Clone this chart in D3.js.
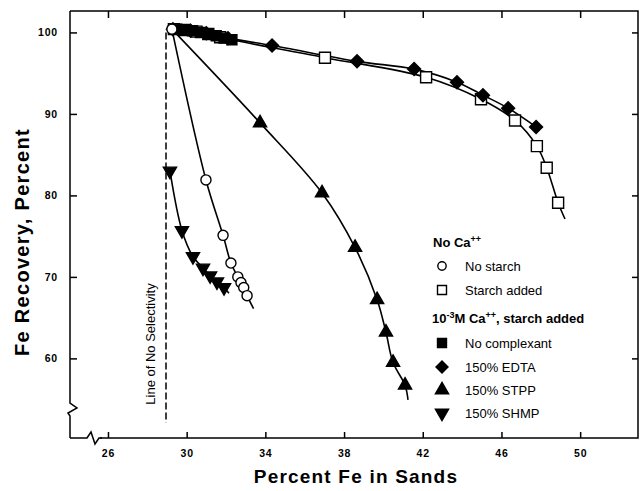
<!doctype html>
<html lang="en">
<head>
  <meta charset="utf-8" />
  <title>Fe Recovery vs Percent Fe in Sands</title>
  <style>
    html, body { margin: 0; padding: 0; background: #fff; }
    svg { display: block; font-family: "Liberation Sans", Arial, Helvetica, sans-serif; }
    .tick text { font-size: 10.5px; font-weight: bold; letter-spacing: 0.8px; }
    .lbl { font-weight: bold; }
    .leg { font-size: 13px; }
  </style>
</head>
<body>
<script src="https://cdn.jsdelivr.net/npm/d3@7"></script>
<script>

// Data
var xTicks = [26, 30, 34, 38, 42, 46, 50];
var yTicks = [60, 70, 80, 90, 100];
var origin = [29.25, 100.4];
var noSelectivityX = 28.95;

var noStarch = [[29.25, 100.4], [30.98, 81.9], [31.85, 75.1], [32.25, 71.7], [32.6, 70.0], [32.76, 69.3], [32.9, 68.7], [33.07, 67.7]];
var noStarchEnd = [33.4, 66.1];

var starchAdded = [[29.35, 100.4], [29.9, 100.3], [30.5, 100.1], [31.1, 99.8], [31.7, 99.4], [37.03, 96.9], [42.17, 94.5], [44.96, 91.8], [46.69, 89.2], [47.8, 86.05], [48.3, 83.4], [48.88, 79.1]];
var starchEnd = [49.23, 77.1];

var noComplexant = [[29.5, 100.4], [29.9, 100.3], [30.3, 100.2], [30.7, 100.0], [31.1, 99.8], [31.5, 99.6], [31.9, 99.3], [32.3, 99.1]];

var edta = [[29.3, 100.4], [30.2, 100.2], [31.0, 99.9], [32.1, 99.3], [34.34, 98.4], [38.66, 96.45], [41.56, 95.5], [43.74, 93.9], [45.06, 92.3], [46.34, 90.7], [47.76, 88.4]];

var stpp = [[33.73, 88.9], [36.88, 80.3], [38.56, 73.6], [39.68, 67.2], [40.13, 63.2], [40.49, 59.5], [41.1, 56.7]];
var stppEnd = [41.25, 54.9];

var shmp = [[29.15, 83.0], [29.76, 75.7], [30.32, 72.5], [30.83, 71.1], [31.19, 70.15], [31.54, 69.4], [31.9, 68.7]];
var shmpEnd = [32.15, 68.0];

// SVG
var width = 640, height = 491;
var svg = d3.select('body').append('svg')
  .attr('width', width)
  .attr('height', height);

var pLeft = 70, pRight = 638, pTop = 11, pBottom = 438;

var x = d3.scaleLinear().domain([24.07, 52.94]).range([pLeft, pRight]);
var y = d3.scaleLinear().domain([50.23, 102.63]).range([pBottom, pTop]);

// Frame and axes
var frame = svg.append('g').attr('stroke', '#000').attr('stroke-width', 1.5).attr('fill', 'none');
frame.append('path').attr('d',
  'M' + pLeft + ',' + pTop + 'H' + pRight + 'V' + pBottom +
  'H' + (pLeft + 30));
// bottom axis with break
frame.append('path').attr('d',
  'M' + pLeft + ',' + pBottom + 'H' + (pLeft + 17) + 'L' + (pLeft + 21) + ',' + (pBottom - 6) +
  'L' + (pLeft + 25) + ',' + (pBottom + 6) + 'L' + (pLeft + 29) + ',' + pBottom + 'H' + (pLeft + 32));
// left axis with break
frame.append('path').attr('d',
  'M' + pLeft + ',' + pTop + 'V' + (pBottom - 35) + 'L' + (pLeft + 7) + ',' + (pBottom - 30) +
  'L' + (pLeft - 2) + ',' + (pBottom - 25) + 'L' + pLeft + ',' + (pBottom - 22) + 'V' + pBottom);

svg.append('g')
  .attr('transform', 'translate(0,' + pBottom + ')')
  .call(d3.axisBottom(x).tickValues(xTicks).tickSize(-6).tickPadding(12).tickFormat(d3.format('d')))
  .call(function(g) { g.select('.domain').remove(); })
  .call(function(g) { g.selectAll('.tick line').attr('stroke-width', 1.5); });

svg.append('g')
  .attr('transform', 'translate(0,' + pTop + ')')
  .call(d3.axisTop(x).tickValues(xTicks).tickSize(-7).tickFormat(''))
  .call(function(g) { g.select('.domain').remove(); })
  .call(function(g) { g.selectAll('.tick line').attr('stroke-width', 1.5); });

svg.append('g')
  .attr('transform', 'translate(' + pLeft + ',0)')
  .call(d3.axisLeft(y).tickValues(yTicks).tickSize(-7).tickPadding(12).tickFormat(d3.format('d')))
  .call(function(g) { g.select('.domain').remove(); })
  .call(function(g) { g.selectAll('.tick line').attr('stroke-width', 1.5); });

svg.append('g')
  .attr('transform', 'translate(' + pRight + ',0)')
  .call(d3.axisRight(y).tickValues(yTicks).tickSize(-6).tickFormat(''))
  .call(function(g) { g.select('.domain').remove(); })
  .call(function(g) { g.selectAll('.tick line').attr('stroke-width', 1.5); });

// Axis titles
svg.append('text').attr('class', 'lbl')
  .attr('x', 356).attr('y', 483)
  .attr('text-anchor', 'middle')
  .attr('font-size', 19).attr('letter-spacing', 1.2)
  .text('Percent Fe in Sands');

svg.append('text').attr('class', 'lbl')
  .attr('transform', 'translate(29,242) rotate(-90)')
  .attr('text-anchor', 'middle')
  .attr('font-size', 20).attr('letter-spacing', 1.3)
  .text('Fe Recovery, Percent');

// Line of no selectivity
svg.append('line')
  .attr('x1', x(noSelectivityX)).attr('x2', x(noSelectivityX))
  .attr('y1', y(100)).attr('y2', y(52.1))
  .attr('stroke', '#000').attr('stroke-width', 1.5)
  .attr('stroke-dasharray', '7,3');

svg.append('text').attr('class', 'leg')
  .attr('transform', 'translate(' + (x(noSelectivityX) - 11) + ',344) rotate(-90)')
  .attr('text-anchor', 'middle')
  .text('Line of No Selectivity');

// Curves
var line = d3.line()
  .x(function(d) { return x(d[0]); })
  .y(function(d) { return y(d[1]); })
  .curve(d3.curveCatmullRom.alpha(0.5));

var curves = [
  noStarch.concat([noStarchEnd]),
  starchAdded.concat([starchEnd]),
  edta,
  [origin].concat(stpp, [stppEnd]),
  shmp.concat([shmpEnd])
];

svg.append('g').selectAll('path')
  .data(curves)
  .enter()
  .append('path')
  .attr('d', line)
  .attr('fill', 'none')
  .attr('stroke', '#000')
  .attr('stroke-width', 1.6);

// Markers
function sq(s) { return 'M' + (-s) + ',' + (-s) + 'H' + s + 'V' + s + 'H' + (-s) + 'Z'; }
function dia(s) { return 'M0,' + (-s) + 'L' + s + ',0L0,' + s + 'L' + (-s) + ',0Z'; }
var triUp = d3.symbol().type(d3.symbolTriangle).size(75)();

function markers(data, path, fill, rot) {
  svg.append('g').selectAll('path')
    .data(data)
    .enter()
    .append('path')
    .attr('transform', function(d) {
      return 'translate(' + x(d[0]) + ',' + y(d[1]) + ')' + (rot ? ' rotate(' + rot + ')' : '');
    })
    .attr('d', path)
    .attr('fill', fill)
    .attr('stroke', '#000')
    .attr('stroke-width', 1.4);
}

markers(starchAdded, sq(5.5), '#fff');
markers(edta, dia(6.5), '#000');
markers(noComplexant, sq(5), '#000');
markers(stpp, triUp, '#000');
markers(shmp, triUp, '#000', 180);
markers(noStarch, d3.symbol().type(d3.symbolCircle).size(80)(), '#fff');

// Legend
var leg = svg.append('g');
var lx = 442, tx = 465;

var h1 = leg.append('text').attr('class', 'leg').attr('x', 433).attr('y', 247).attr('font-weight', 'bold');
h1.append('tspan').text('No Ca');
h1.append('tspan').attr('dy', -5).attr('font-size', 9).text('++');

var items = [
  { y: 266, path: d3.symbol().type(d3.symbolCircle).size(55)(), fill: '#fff', label: 'No starch' },
  { y: 290, path: sq(4.5), fill: '#fff', label: 'Starch added' },
  { y: 343, path: sq(4.5), fill: '#000', label: 'No complexant' },
  { y: 367, path: dia(6), fill: '#000', label: '150% EDTA' },
  { y: 390, path: triUp, fill: '#000', label: '150% STPP' },
  { y: 413, path: triUp, fill: '#000', label: '150% SHMP', rot: 180 }
];

items.forEach(function(it) {
  leg.append('path')
    .attr('transform', 'translate(' + lx + ',' + it.y + ')' + (it.rot ? ' rotate(' + it.rot + ')' : ''))
    .attr('d', it.path)
    .attr('fill', it.fill)
    .attr('stroke', '#000')
    .attr('stroke-width', 1.4);
  leg.append('text').attr('class', 'leg')
    .attr('x', tx).attr('y', it.y + 5)
    .text(it.label);
});

var h2 = leg.append('text').attr('class', 'leg').attr('x', 432).attr('y', 323).attr('font-weight', 'bold');
h2.append('tspan').text('10');
h2.append('tspan').attr('dy', -5).attr('font-size', 9).text('-3');
h2.append('tspan').attr('dy', 5).text('M Ca');
h2.append('tspan').attr('dy', -5).attr('font-size', 9).text('++');
h2.append('tspan').attr('dy', 5).text(', starch added');

</script>
</body>
</html>
